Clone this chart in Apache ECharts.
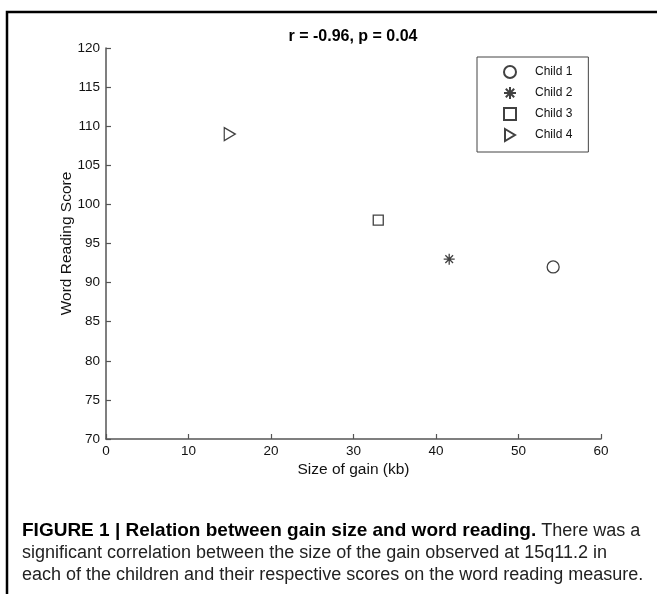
<!DOCTYPE html>
<html>
<head>
<meta charset="utf-8">
<script src="https://cdn.jsdelivr.net/npm/echarts@6/dist/echarts.min.js"></script>
<style>
  html, body { margin: 0; padding: 0; background: #fff; }
  #chart { width: 657px; height: 594px; }
</style>
</head>
<body>
<div id="chart"></div>
<script>
var children = ['Child 1', 'Child 2', 'Child 3', 'Child 4'];
var gainKb = [54.2, 41.6, 33.0, 15.0];
var readingScore = [92, 93, 98, 109];

var symbols = [
    'circle',
    'path://M5,0 L5,10 M0,5 L10,5 M1.5,1.5 L8.5,8.5 M8.5,1.5 L1.5,8.5',
    'rect',
    'path://M0,0 L10,6 L0,12 Z'
];
var symbolSizes = [12, 11, 10, [11, 13]];

var font = '"Liberation Sans", Arial, sans-serif';

var chart = echarts.init(document.getElementById('chart'));

var series = children.map(function (name, i) {
    return {
        name: name,
        type: 'scatter',
        data: [[gainKb[i], readingScore[i]]],
        symbol: symbols[i],
        symbolSize: symbolSizes[i],
        itemStyle: {
            color: 'rgba(0,0,0,0)',
            borderColor: '#111',
            borderWidth: 1.3
        },
        emphasis: { disabled: true }
    };
});

var option = {
    backgroundColor: '#fff',
    animation: false,
    grid: {
        left: 106,
        right: 56,
        top: 48,
        bottom: 155
    },
    legend: {
        data: children,
        orient: 'vertical',
        left: 477,
        top: 57,
        padding: [8, 16, 10, 26],
        itemWidth: 12,
        itemHeight: 12,
        itemGap: 7,
        borderColor: '#444',
        borderWidth: 1,
        backgroundColor: '#fff',
        textStyle: {
            fontFamily: font,
            fontSize: 12,
            color: '#111',
            padding: [0, 0, 0, 14]
        }
    },
    xAxis: {
        type: 'value',
        min: 0,
        max: 60,
        interval: 10,
        name: 'Size of gain (kb)',
        nameLocation: 'middle',
        nameGap: 23,
        nameMoveOverlap: false,
        nameTextStyle: { fontFamily: font, fontSize: 15.5, color: '#111', verticalAlign: 'top' },
        axisLine: { lineStyle: { color: '#555', width: 1.5 } },
        axisTick: { inside: true, length: 5, lineStyle: { color: '#555', width: 1.2 } },
        axisLabel: { fontFamily: font, fontSize: 13.5, color: '#111', margin: 5 },
        splitLine: { show: false }
    },
    yAxis: {
        type: 'value',
        min: 70,
        max: 120,
        interval: 5,
        name: 'Word Reading Score',
        nameLocation: 'middle',
        nameGap: 31,
        nameMoveOverlap: false,
        nameTextStyle: { fontFamily: font, fontSize: 15.5, color: '#111' },
        axisLine: { lineStyle: { color: '#555', width: 1.5 } },
        axisTick: { inside: true, length: 5, lineStyle: { color: '#555', width: 1.2 } },
        axisLabel: { fontFamily: font, fontSize: 13.5, color: '#111', margin: 6 },
        splitLine: { show: false }
    },
    graphic: [
        {
            type: 'polyline',
            shape: { points: [[7, 594], [7, 12], [657, 12]] },
            style: { stroke: '#000', lineWidth: 2.5, fill: null }
        },
        {
            type: 'text',
            x: 353,
            y: 37,
            style: {
                text: 'r = -0.96, p = 0.04',
                font: 'bold 16px ' + font,
                fill: '#000',
                textAlign: 'center',
                textVerticalAlign: 'middle'
            }
        },
        {
            type: 'text',
            x: 22,
            y: 520,
            style: {
                text: '{b|FIGURE 1 | Relation between gain size and word reading.}{n| There was a}\n' +
                      '{n|significant correlation between the size of the gain observed at 15q11.2 in}\n' +
                      '{n|each of the children and their respective scores on the word reading measure.}',
                fill: '#111',
                rich: {
                    b: { fontFamily: font, fontSize: 19, fontWeight: 'bold', lineHeight: 22, fill: '#000' },
                    n: { fontFamily: font, fontSize: 18, lineHeight: 22, fill: '#222' }
                }
            }
        }
    ],
    series: series
};

chart.setOption(option);

window.addEventListener('resize', function () {
    chart.resize();
});
</script>
</body>
</html>
